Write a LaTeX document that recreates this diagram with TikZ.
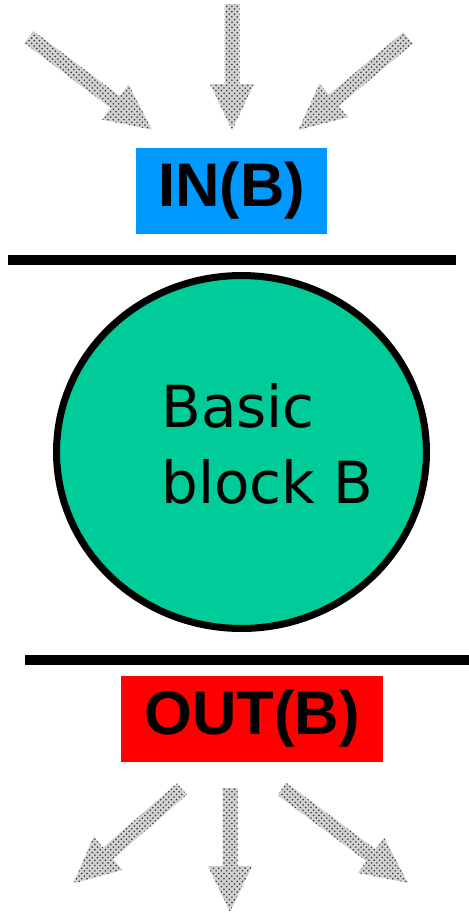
\documentclass[tikz,border=0pt]{standalone}
\usepackage{fontspec}
\usetikzlibrary{shapes.geometric,patterns}
\newfontfamily\boxfont{Liberation Sans}
\newfontfamily\handfont{DejaVu Sans}
\definecolor{inblue}{HTML}{0099FF}
\definecolor{outred}{HTML}{FF0000}
\definecolor{blockgreen}{HTML}{00CC99}

\tikzset{
  flowarrow/.style={preaction={fill=gray!35}, pattern=crosshatch dots, pattern color=black!80},
  setbox/.style={inner sep=0pt, minimum height=1.72cm, font=\boxfont\bfseries\fontsize{35}{40}\selectfont},
  bar/.style={line width=5.7pt}
}
% fat arrow: tail, angle, length (px)
\newcommand\flowarrow[3]{%
  \fill[flowarrow, shift={#1}, rotate=#2] (0,-7.5) -- (#3-46,-7.5) -- (#3-46,-22) -- (#3,0)
    -- (#3-46,22) -- (#3-46,7.5) -- (0,7.5) -- cycle;}

\begin{document}
\begin{tikzpicture}[x=0.02cm, y=-0.02cm]
\useasboundingbox (0,0) rectangle (469,913);

% flow in
\flowarrow{(29,37)}{-37}{154}
\flowarrow{(232,4)}{-90}{126}
\flowarrow{(408,38)}{-140}{143}

\node[setbox, fill=inblue, minimum width=3.82cm] (in) at (231.5,191) {IN(B)};
\draw[bar] (8,260) -- (456,260);

\node[ellipse, draw, line width=4pt, fill=blockgreen, minimum width=7.4cm, minimum height=7.06cm] (block) at (241.5,452) {};
\node[anchor=base west, align=left, inner sep=0pt, font=\handfont\fontsize{33}{43}\selectfont] (name) at (161,503) {Basic\\block B};

\draw[bar] (25,660) -- (469,660);
\node[setbox, fill=outred, minimum width=5.24cm] (out) at (252,719) {OUT(B)};

% flow out
\flowarrow{(182,789)}{-139}{144}
\flowarrow{(230,788)}{-90}{124}
\flowarrow{(282,789)}{-36.7}{157}
\end{tikzpicture}
\end{document}
